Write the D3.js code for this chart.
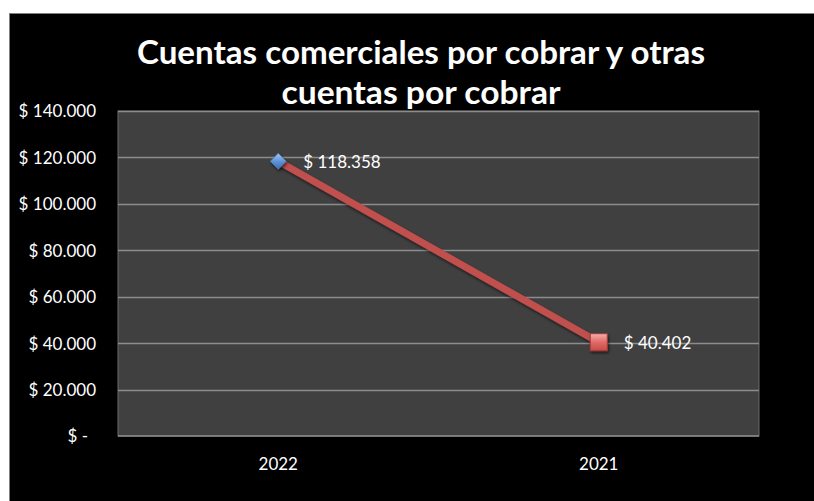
<!DOCTYPE html>
<html>
<head>
<meta charset="utf-8">
<script src="https://cdn.jsdelivr.net/npm/d3@7"></script>
<style>
  html, body { margin: 0; padding: 0; background: #ffffff; }
  svg { display: block; }
  text { font-family: Lato, "Open Sans", sans-serif; }
</style>
</head>
<body>
<svg id="chart" width="814" height="501"></svg>
<script>
// Chart data
const titleLines = ["Cuentas comerciales por cobrar y otras", "cuentas por cobrar"];
const years = ["2022", "2021"];
const values = [118358, 40402];
const yTicks = [0, 20000, 40000, 60000, 80000, 100000, 120000, 140000];

const fmt = v => v === 0 ? "$ -" : "$ " + d3.format(",")(v).replace(/,/g, ".");

const svg = d3.select("#chart");
const W = 814, H = 501;
const labelSize = 17;

// Dark chart frame
svg.append("rect")
  .attr("x", 9.5).attr("y", 13.5)
  .attr("width", W - 9).attr("height", H - 13)
  .attr("fill", "#000").attr("stroke", "#7f7f7f").attr("stroke-width", 1);

const plot = { left: 118, right: 759, top: 111, bottom: 436 };

const x = d3.scaleBand().domain(years).range([plot.left, plot.right]);
const y = d3.scaleLinear().domain([0, 140000]).range([plot.bottom, plot.top]);

const defs = svg.append("defs");
const gDia = defs.append("linearGradient").attr("id", "gDia")
  .attr("x1", 0).attr("y1", 0).attr("x2", 0).attr("y2", 1);
gDia.append("stop").attr("offset", "0%").attr("stop-color", "#a9c8f0");
gDia.append("stop").attr("offset", "55%").attr("stop-color", "#5b8fd4");
gDia.append("stop").attr("offset", "100%").attr("stop-color", "#3a6fb8");
const gSq = defs.append("linearGradient").attr("id", "gSq")
  .attr("x1", 0).attr("y1", 0).attr("x2", 0).attr("y2", 1);
gSq.append("stop").attr("offset", "0%").attr("stop-color", "#f4b0ad");
gSq.append("stop").attr("offset", "50%").attr("stop-color", "#e06a66");
gSq.append("stop").attr("offset", "100%").attr("stop-color", "#c94a46");
const shadow = defs.append("filter").attr("id", "shadow")
  .attr("x", "-20%").attr("y", "-20%").attr("width", "140%").attr("height", "140%");
shadow.append("feDropShadow").attr("dx", 1).attr("dy", 2).attr("stdDeviation", 1.5)
  .attr("flood-color", "#000").attr("flood-opacity", 0.6);

// Plot area
svg.append("rect")
  .attr("x", plot.left).attr("y", plot.top)
  .attr("width", plot.right - plot.left).attr("height", plot.bottom - plot.top)
  .attr("fill", "#404040").attr("stroke", "#6a6a6a").attr("stroke-width", 1);

// Gridlines
svg.append("g")
  .selectAll("line").data(yTicks.filter(t => t > 0)).join("line")
  .attr("x1", plot.left).attr("x2", plot.right)
  .attr("y1", d => Math.round(y(d)) + 0.5).attr("y2", d => Math.round(y(d)) + 0.5)
  .attr("stroke", "#8c8c8c").attr("stroke-width", 1.5);

// Category axis line
svg.append("line")
  .attr("x1", plot.left).attr("x2", plot.right)
  .attr("y1", y(0)).attr("y2", y(0))
  .attr("stroke", "#8c8c8c").attr("stroke-width", 1.5);

// Y axis labels
const yAxis = d3.axisLeft(y).tickValues(yTicks).tickFormat(fmt).tickSize(0).tickPadding(0);
const yg = svg.append("g").attr("transform", "translate(96,0)").call(yAxis);
yg.select(".domain").remove();
yg.selectAll("text")
  .attr("fill", "#ffffff").attr("font-size", labelSize)
  .attr("dy", "0.35em")
  .attr("dx", d => d === 0 ? -8 : 0);

// X axis labels
const xAxis = d3.axisBottom(x).tickSize(0).tickPadding(0);
const xg = svg.append("g").attr("transform", `translate(0,${plot.bottom + 22})`).call(xAxis);
xg.select(".domain").remove();
xg.selectAll("text").attr("fill", "#ffffff").attr("font-size", labelSize).attr("dy", "0.7em");

// Series line
const pts = years.map((yr, i) => ({ yr, v: values[i] }));
const line = d3.line().x(d => x(d.yr) + x.bandwidth() / 2).y(d => y(d.v));
svg.append("path").datum(pts)
  .attr("d", line)
  .attr("fill", "none").attr("stroke", "#c0504d").attr("stroke-width", 7)
  .attr("stroke-linecap", "butt")
  .attr("filter", "url(#shadow)");

// Markers
const p0 = pts[0], p1 = pts[1];
const cx0 = x(p0.yr) + x.bandwidth() / 2, cy0 = y(p0.v);
svg.append("path")
  .attr("d", d3.symbol().type(d3.symbolDiamond2).size(160)())
  .attr("transform", `translate(${cx0},${cy0})`)
  .attr("fill", "url(#gDia)").attr("stroke", "#4a7ebb").attr("stroke-width", 0.8)
  .attr("filter", "url(#shadow)");
const cx1 = x(p1.yr) + x.bandwidth() / 2, cy1 = y(p1.v);
svg.append("rect")
  .attr("x", cx1 - 8.5).attr("y", cy1 - 8.5).attr("width", 17).attr("height", 17)
  .attr("fill", "url(#gSq)").attr("stroke", "#a33c38").attr("stroke-width", 1)
  .attr("filter", "url(#shadow)");

// Data labels
svg.append("g").selectAll("text").data(pts).join("text")
  .attr("x", d => x(d.yr) + x.bandwidth() / 2 + 25)
  .attr("y", d => y(d.v) + 1)
  .attr("dy", "0.35em")
  .attr("fill", "#ffffff").attr("font-size", labelSize)
  .text(d => fmt(d.v));

// Title
const titleWidths = [568, 279];
svg.append("g").selectAll("text").data(titleLines).join("text")
  .attr("x", 421)
  .attr("y", (d, i) => 64 + i * 40)
  .attr("text-anchor", "middle")
  .attr("fill", "#ffffff").attr("font-size", 32).attr("font-weight", "bold")
  .attr("textLength", (d, i) => titleWidths[i])
  .attr("lengthAdjust", "spacingAndGlyphs")
  .text(d => d);
</script>
</body>
</html>
